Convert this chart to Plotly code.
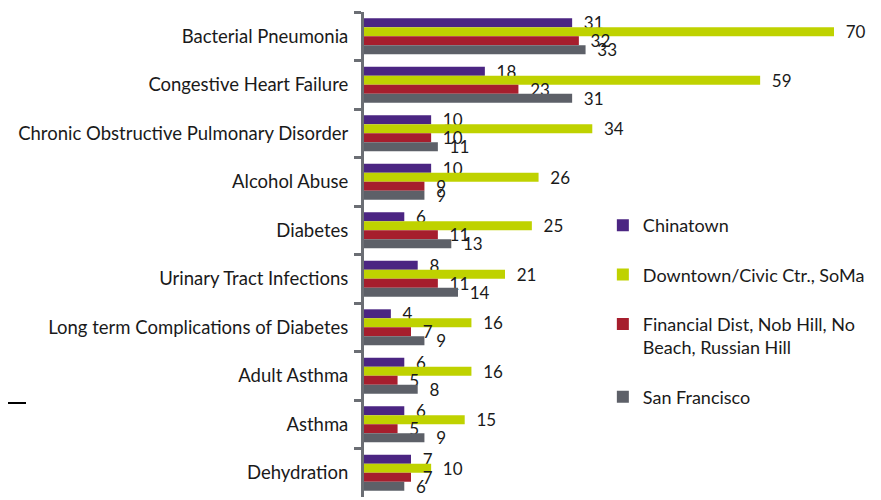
import plotly.graph_objects as go

categories = [
    "Bacterial Pneumonia",
    "Congestive Heart Failure",
    "Chronic Obstructive Pulmonary Disorder",
    "Alcohol Abuse",
    "Diabetes",
    "Urinary Tract Infections",
    "Long term Complications of Diabetes",
    "Adult Asthma",
    "Asthma",
    "Dehydration",
]
series_names = [
    "Chinatown",
    "Downtown/Civic Ctr., SoMa",
    "Financial Dist, Nob Hill, No<br>Beach, Russian Hill",
    "San Francisco",
]
chinatown = [31, 18, 10, 10, 6, 8, 4, 6, 6, 7]
downtown = [70, 59, 34, 26, 25, 21, 16, 16, 15, 10]
financial = [32, 23, 10, 9, 11, 11, 7, 5, 5, 7]
san_francisco = [33, 31, 11, 9, 13, 14, 9, 8, 9, 6]
colors = ["#4b2582", "#bfd200", "#a61e2d", "#5d6068"]

FONT = "Lato"
W, H = 873, 492  # page body has 8px margin
fig = go.Figure()
for i, (name, vals, col) in enumerate(zip(series_names,
                                          [chinatown, downtown, financial, san_francisco],
                                          colors)):
    fig.add_trace(go.Bar(
        y=categories, x=vals, name=name, orientation="h",
        marker=dict(color=col, line=dict(width=0)),
        text=vals, texttemplate="\u00a0\u00a0%{x}",
        textposition="outside", constraintext="none", cliponaxis=False,
        textfont=dict(family=FONT, size=17, color="#1a1a1a"),
        legendgroup=f"g{i}",
    ))

fig.update_layout(
    width=W, height=H,
    margin=dict(l=356, r=0, t=4, b=3, autoexpand=False),
    paper_bgcolor="white", plot_bgcolor="white",
    barmode="group", bargap=0.26, bargroupgap=0,
    font=dict(family=FONT, size=16, color="#1a1a1a"),
    showlegend=True,
    legend=dict(
        x=0.462, y=0.598, xanchor="left", yanchor="top",
        traceorder="grouped", tracegroupgap=23, valign="top",
        bgcolor="rgba(0,0,0,0)", font=dict(family=FONT, size=18, color="#1a1a1a"),
    ),
    xaxis=dict(range=[0, 77], visible=False, showgrid=False, zeroline=False),
    yaxis=dict(
        autorange="reversed", showgrid=False, zeroline=False,
        showline=True, linecolor="#6b6e74", linewidth=3,
        ticks="outside", tickson="boundaries", ticklen=7, tickwidth=3, tickcolor="#6b6e74",
        ticklabelstandoff=9,
        tickfont=dict(family=FONT, size=18.5, color="#1a1a1a"),
    ),
    shapes=[dict(type="line", xref="paper", yref="paper",
                 x0=-356/517, x1=-338/517, y0=(489-395)/485, y1=(489-395)/485,
                 line=dict(color="black", width=2))],
)

fig.write_html("out.html")
